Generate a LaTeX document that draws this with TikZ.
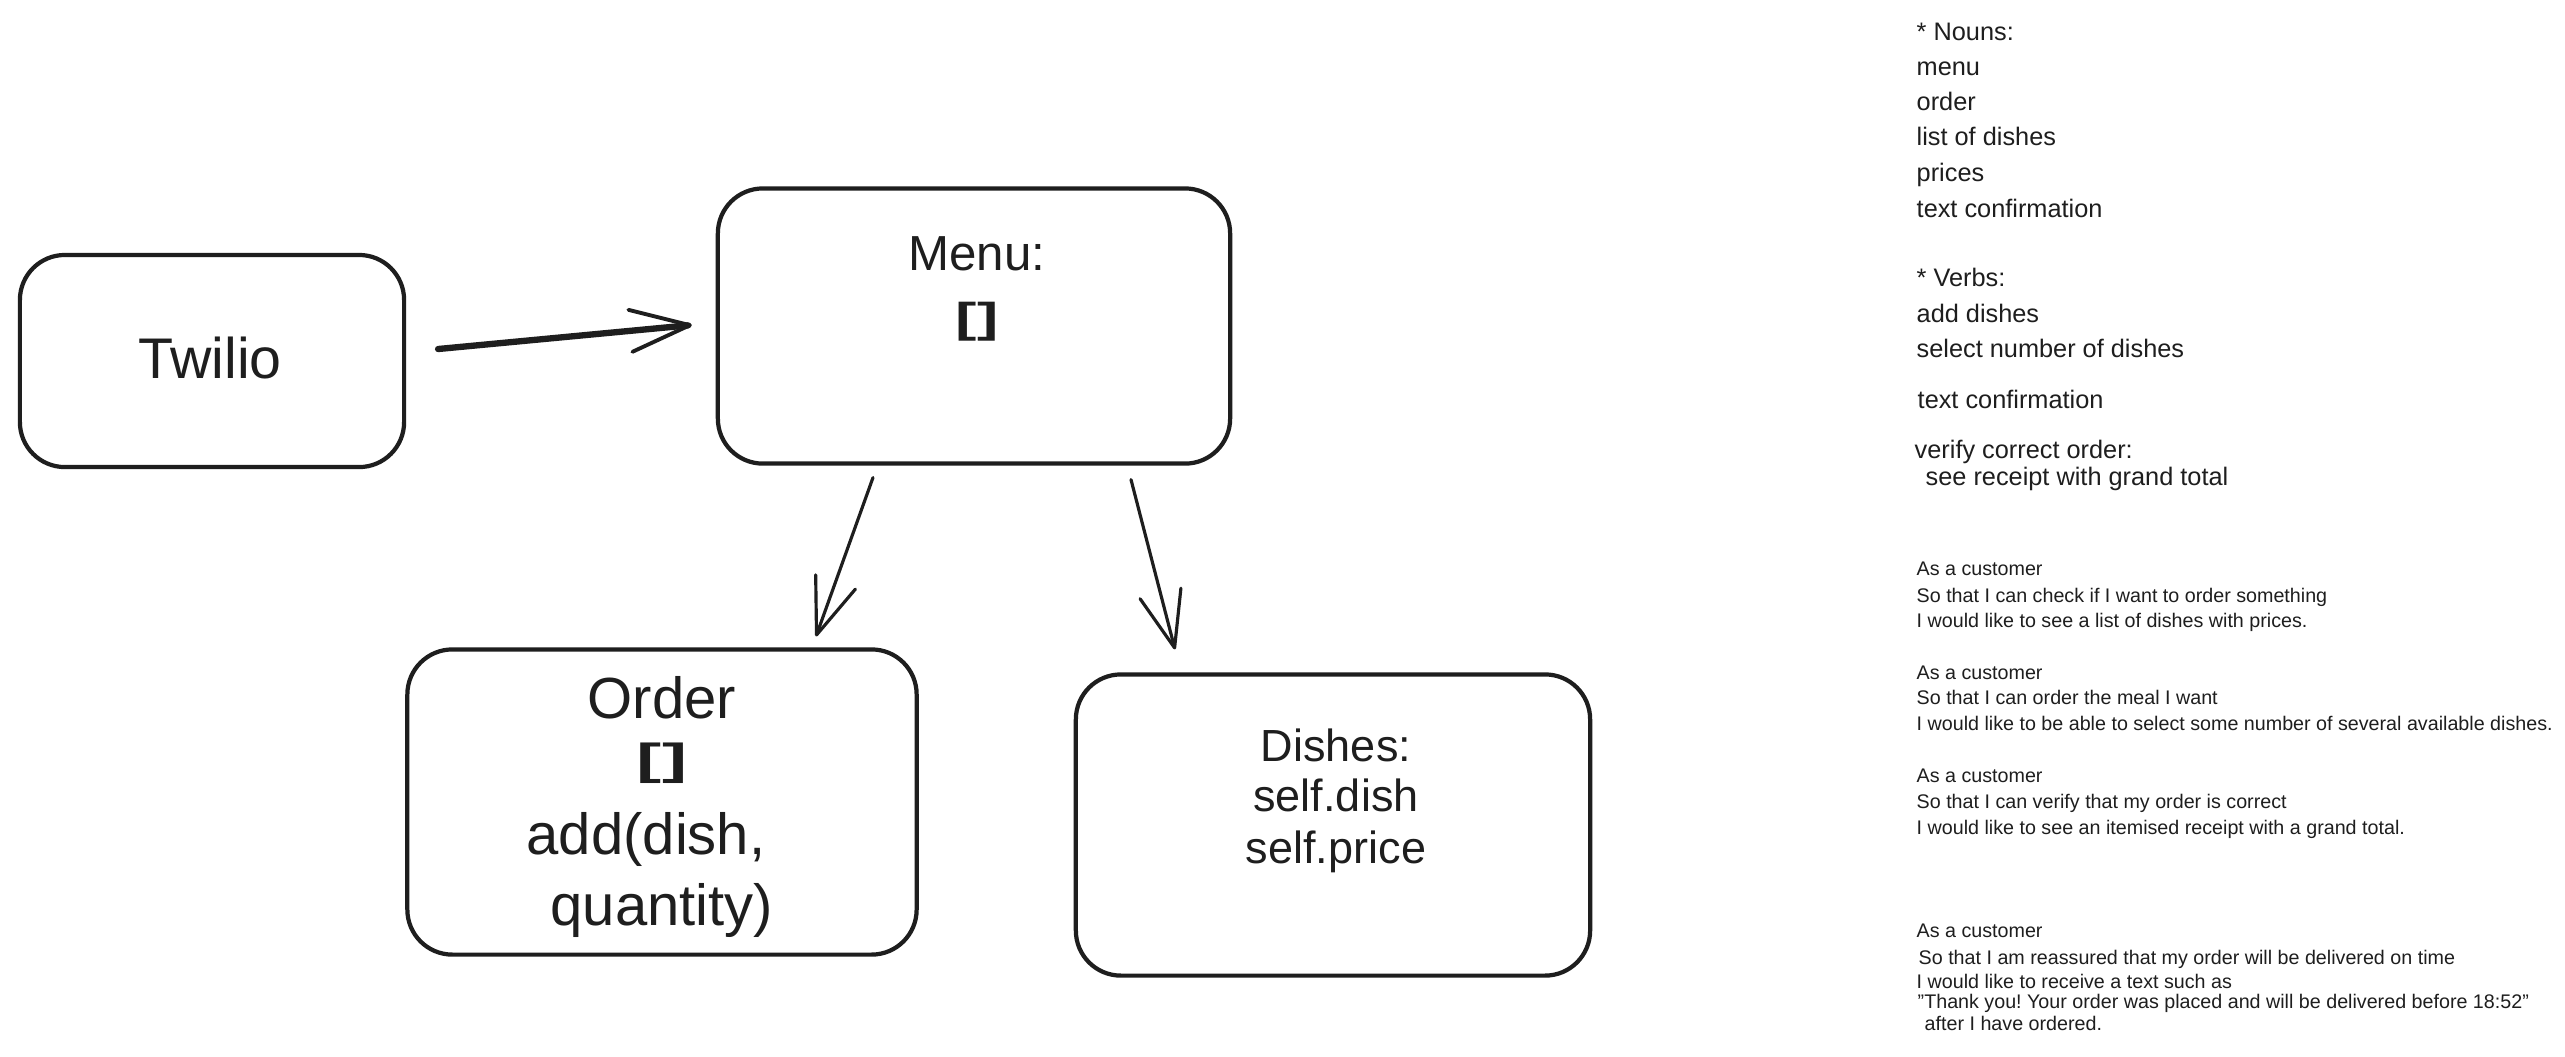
\documentclass[tikz,border=0pt]{standalone}
\usepackage{fontspec}
\setmainfont{Liberation Sans}
\usetikzlibrary{arrows.meta,calc}
\definecolor{ink}{HTML}{1E1E1E}
\frenchspacing
\begin{document}
\begin{tikzpicture}[x=0.01cm,y=-0.01cm,
  box/.style={draw=ink, line width=1.2pt, rounded corners=0.45cm, inner sep=0pt, outer sep=0pt},
  conn/.style={draw=ink, line width=0.9pt, line cap=round, -{Straight Barb[length=16pt,width=12pt,line width=0.9pt,round]}},
  thickconn/.style={draw=ink, line width=1.8pt, line cap=round, -{Straight Barb[length=17pt,width=12pt,line width=1.1pt,round]}},
  lbl/.style={anchor=base, inner sep=0pt, text=ink},
  note/.style={anchor=base west, inner sep=0pt, text=ink, font=\fontsize{7.2}{8}\selectfont},
  story/.style={anchor=base west, inner sep=0pt, text=ink, font=\fontsize{5.6}{7}\selectfont}]
\useasboundingbox (0,0) rectangle (2565,1056);
\fill[white] (0,0) rectangle (2565,1056);

% boxes
\node[box, minimum width=3.84cm, minimum height=2.12cm] (tw) at (212,361) {};
\node[box, minimum width=5.12cm, minimum height=2.75cm] (menu) at (974,326) {};
\node[box, minimum width=5.09cm, minimum height=3.05cm] (order) at (662,802) {};
\node[box, minimum width=5.14cm, minimum height=3.01cm] (dishes) at (1333,825) {};

% box texts
\node[lbl, font=\fontsize{16.3}{18}\selectfont] (twt) at (210,378) {Twilio};
\node[lbl, font=\fontsize{14}{17}\selectfont] (menut1) at (977,270) {Menu:};
\node[lbl, font=\fontsize{14}{17}\selectfont\bfseries] (menut2) at (977,332) {\scalebox{1.3}[0.85]{[]}};
\node[lbl, font=\fontsize{16.5}{19}\selectfont] (ordt1) at (662,718) {Order};
\node[lbl, font=\fontsize{16.5}{19}\selectfont\bfseries] (ordt2) at (662,774) {\scalebox{1.3}[0.75]{[]}};
\node[lbl, font=\fontsize{16.5}{19}\selectfont] (ordt3) at (646,854) {add(dish,};
\node[lbl, font=\fontsize{16.5}{19}\selectfont] (ordt4) at (662,925) {quantity)};
\node[lbl, font=\fontsize{12.8}{15}\selectfont] (dist1) at (1336,761) {Dishes:};
\node[lbl, font=\fontsize{12.8}{15}\selectfont] (dist2) at (1336,811) {self.dish};
\node[lbl, font=\fontsize{12.8}{15}\selectfont] (dist3) at (1336,863) {self.price};

% connectors
\draw[thickconn] ($(tw.east)+(34,-12)$) -- ($(menu.west)+(-26,-1)$);
\draw[conn] ($(menu.south)+(-101,14)$) -- ($(order.north)+(154,-13)$);
\draw[conn] ($(menu.south)+(157,16)$) -- ($(dishes.north)+(-158,-25)$);

% notes
\node[note] (n1) at (1916,40) {* Nouns:};
\node[note] (n2) at (1916,75) {menu};
\node[note] (n3) at (1916,110) {order};
\node[note] (n4) at (1916,145) {list of dishes};
\node[note] (n5) at (1916,181) {prices};
\node[note] (n6) at (1916,217) {text confirmation};
\node[note] (v1) at (1916,286) {* Verbs:};
\node[note] (v2) at (1916,322) {add dishes};
\node[note] (v3) at (1916,357) {select number of dishes};
\node[note] (v4) at (1917,408) {text confirmation};
\node[note] (v5) at (1914,458) {verify correct order:};
\node[note] (v6) at (1925,485) {see receipt with grand total};

% user stories
\node[story] (s11) at (1916,575) {As a customer};
\node[story] (s12) at (1916,602) {So that I can check if I want to order something};
\node[story] (s13) at (1916,627) {I would like to see a list of dishes with prices.};
\node[story] (s21) at (1916,679) {As a customer};
\node[story] (s22) at (1916,704) {So that I can order the meal I want};
\node[story] (s23) at (1916,730) {I would like to be able to select some number of several available dishes.};
\node[story] (s31) at (1916,782) {As a customer};
\node[story] (s32) at (1916,808) {So that I can verify that my order is correct};
\node[story] (s33) at (1916,834) {I would like to see an itemised receipt with a grand total.};
\node[story] (s41) at (1916,937) {As a customer};
\node[story] (s42) at (1918,964) {So that I am reassured that my order will be delivered on time};
\node[story] (s43) at (1916,988) {I would like to receive a text such as};
\node[story] (s44) at (1917,1008) {"Thank you! Your order was placed and will be delivered before 18:52"};
\node[story] (s45) at (1924,1030) {after I have ordered.};
\end{tikzpicture}
\end{document}
